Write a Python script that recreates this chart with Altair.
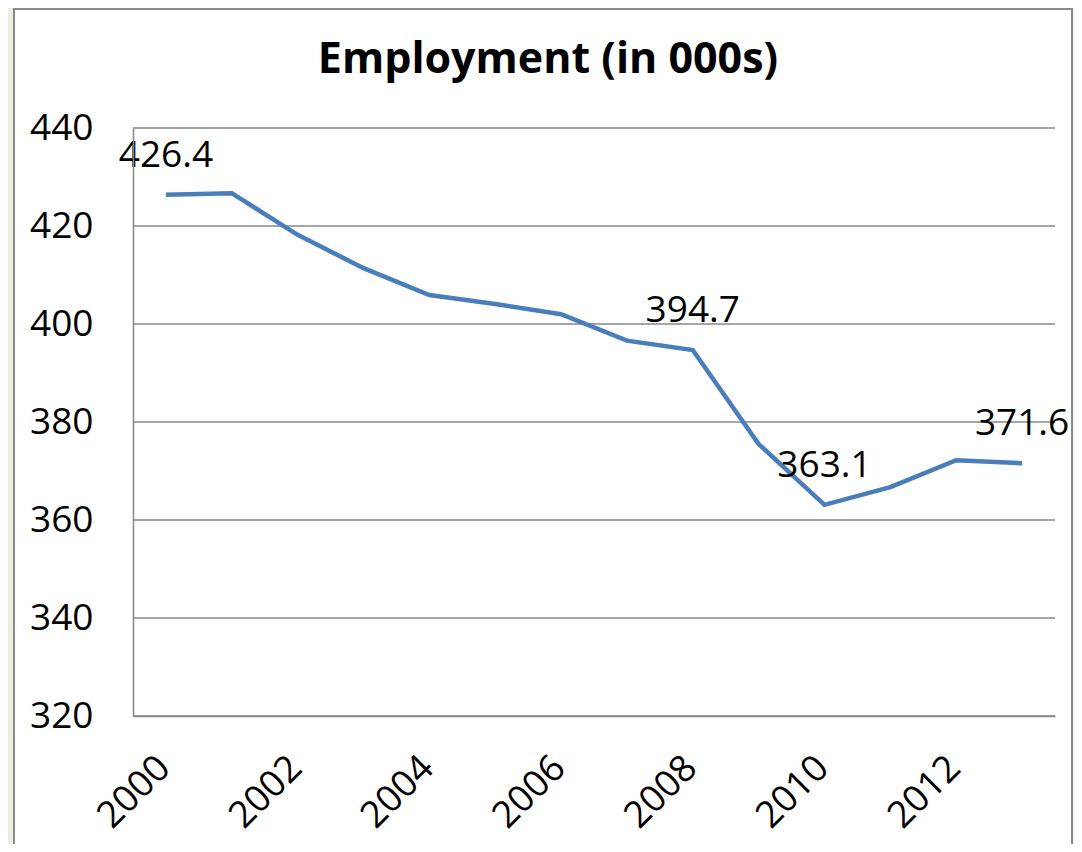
import altair as alt
import pandas as pd

years = [2000, 2001, 2002, 2003, 2004, 2005, 2006, 2007, 2008, 2009, 2010, 2011, 2012, 2013]
employment = [426.4, 426.7, 418.2, 411.4, 405.9, 404.1, 402.0, 396.6, 394.7, 375.5, 363.1, 366.7, 372.2, 371.6]
labelled_years = [2000, 2008, 2010, 2013]
y_ticks = [320, 340, 360, 380, 400, 420, 440]
x_tick_labels = [2000, 2002, 2004, 2006, 2008, 2010, 2012]

FONT = "Open Sans"
W, H = 922, 588

df = pd.DataFrame({"year": years, "value": employment})
df["label"] = [f"{v:.1f}" if y in labelled_years else "" for y, v in zip(years, employment)]
grid_df = pd.DataFrame({"value": y_ticks})
frame_df = pd.DataFrame({"a": [0]})

xenc = alt.X("year:O", title=None, sort=years,
             axis=alt.Axis(values=x_tick_labels, labelAngle=-45, labelAlign="right",
                           labelBaseline="middle", labelFontSize=37, labelFont=FONT,
                           labelColor="black", labelPadding=46, labelOffset=-2, ticks=False,
                           domainColor="#878787", domainWidth=1.5, grid=False, zindex=1))
yscale = alt.Scale(domain=[320, 440], nice=False, zero=False)
yenc = alt.Y("value:Q", title=None, scale=yscale,
             axis=alt.Axis(values=y_ticks, labelFontSize=37, labelFont=FONT,
                           labelColor="black", labelPadding=40, ticks=False,
                           domainColor="#878787", domainWidth=1.5, grid=False, zindex=1))

frame = alt.Chart(frame_df).mark_rect(fill="white", stroke="#8a8a8a", strokeWidth=2).encode(
    x=alt.value(-119), x2=alt.value(939), y=alt.value(-119), y2=alt.value(760))

grid = alt.Chart(grid_df).mark_rule(color="#878787", strokeWidth=1.5).encode(
    y=alt.Y("value:Q", scale=yscale), x=alt.value(0), x2=alt.value(W))

line = alt.Chart(df).mark_line(color="#4A7EBB", strokeWidth=4.5).encode(x=xenc, y=yenc)

labels = alt.Chart(df).mark_text(fontSize=37, font=FONT, color="black", dy=-39,
                                 baseline="middle", align="center").encode(
    x=alt.X("year:O", sort=years), y=alt.Y("value:Q", scale=yscale), text="label:N")

chart = alt.layer(frame, grid, line, labels).properties(
    width=W, height=H,
    title=alt.TitleParams("Employment (in 000s)", fontSize=43, fontWeight="bold", font=FONT,
                          color="black", anchor="middle", dx=-46, dy=94, offset=20),
    background="#EEECE2",
    autosize=alt.AutoSizeParams(type="none"),
    padding={"left": 125, "top": 120, "right": 19, "bottom": 128},
).configure_view(stroke=None)

chart.save("out.html", embed_options={"renderer": "svg", "actions": False})
